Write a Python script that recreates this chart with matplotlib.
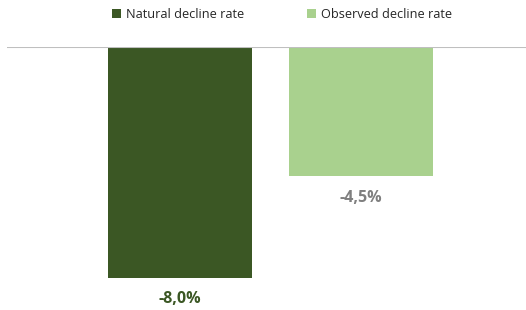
import matplotlib.pyplot as plt

# decline rates (%)
series = ['Natural decline rate', 'Observed decline rate']
values = [-8.0, -4.5]
labels = ['-8,0%', '-4,5%']
colors = ['#3b5724', '#a9d18e']
label_colors = ['#3b5724', '#7f7f7f']

plt.rcParams['font.family'] = ['Open Sans', 'DejaVu Sans']

W, H = 526, 310
fig = plt.figure(figsize=(W / 100, H / 100), dpi=100)
# axes: zero line at y=46px, from x=7px to right edge
ax = fig.add_axes([7 / W, 0, 1 - 7 / W, 1 - 46.5 / H])

unit = 181.0  # px between bar centres
xs = [0, 1]
for x, v, c, s in zip(xs, values, colors, series):
    ax.bar(x, v, width=144 / unit, color=c, label=s)

ax.set_xlim((7 - 180) / unit, (526 - 180) / unit)
ax.set_ylim(-8.0 * (310 - 46.5) / 231, 0)
ax.axhline(0, color='#bfbfbf', linewidth=1.5, zorder=3)

for x, v, t, c in zip(xs, values, labels, label_colors):
    ax.annotate(t, (x, v), xytext=(0, -10), textcoords='offset points',
                ha='center', va='top', fontsize=11.5, fontweight='bold', color=c)

ax.axis('off')

leg = fig.legend(loc='center left', bbox_to_anchor=(112 / W, 1 - 14 / H), ncol=2,
                 frameon=False, fontsize=9.2, handlelength=0.7, handleheight=0.7,
                 columnspacing=4.9, handletextpad=0.4, borderaxespad=0,
                 borderpad=0)
for t in leg.get_texts():
    t.set_color('#262626')

fig.savefig('out.png', dpi=100)
